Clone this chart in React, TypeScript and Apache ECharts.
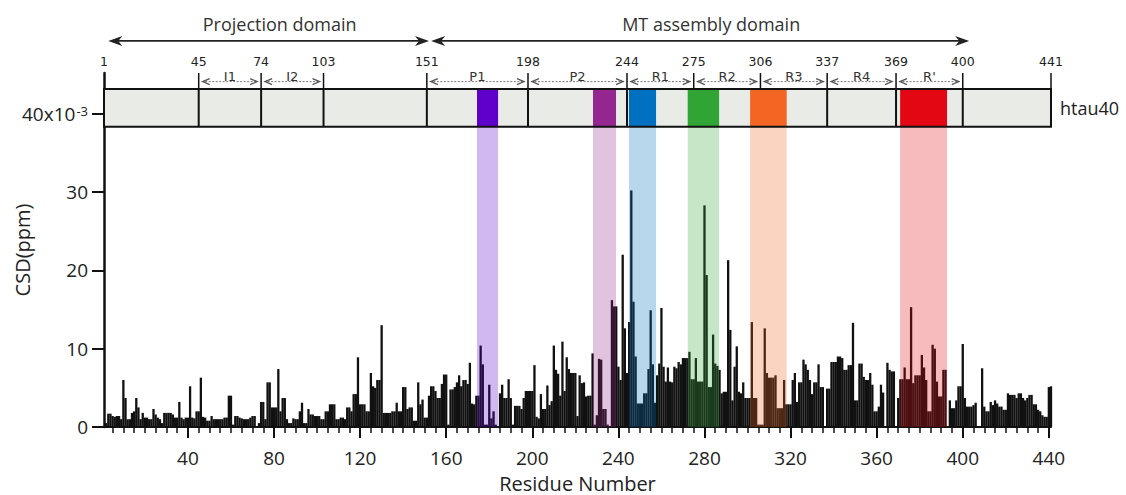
import React, { useEffect, useRef } from "react";
import * as echarts from "echarts";

// CSD (ppm) per residue 1..441
const csd: number[] = [
  0, 0.5, 1.7, 1.7, 1.4, 1.3, 1.4, 1.4, 1.0, 6.0,
  3.7, 1.0, 1.0, 1.8, 2.0, 3.7, 2.5, 1.0, 1.8, 1.2,
  1.2, 1.0, 1.0, 2.3, 1.6, 1.2, 1.0, 0.5, 1.8, 1.8,
  1.8, 1.8, 1.6, 1.2, 1.2, 3.2, 1.2, 1.0, 1.2, 1.2,
  5.2, 1.2, 1.1, 2.0, 2.0, 6.3, 1.3, 1.2, 0.8, 0.8,
  1.4, 1.0, 1.0, 1.0, 1.0, 1.0, 1.2, 1.2, 4.0, 4.0,
  0.3, 1.4, 1.4, 1.2, 1.1, 1.0, 1.0, 1.0, 1.2, 1.4,
  1.4, 0.1, 0.5, 3.2, 3.2, 1.0, 5.7, 5.7, 2.5, 2.5,
  2.5, 7.4, 2.0, 3.7, 3.7, 1.0, 0.5, 0.5, 1.1, 1.0,
  1.0, 2.0, 3.1, 0.5, 0.5, 2.3, 1.6, 1.6, 1.4, 1.4,
  1.4, 1.0, 1.0, 2.0, 2.0, 2.9, 2.9, 2.9, 1.0, 1.0,
  1.2, 1.2, 1.0, 2.5, 2.5, 2.0, 4.2, 4.2, 8.9, 2.9,
  2.9, 2.9, 2.0, 2.0, 6.9, 5.2, 5.0, 6.0, 6.0, 13.0,
  1.8, 1.8, 1.8, 1.8, 2.0, 2.0, 3.1, 2.0, 2.0, 5.1,
  5.1, 2.3, 2.5, 2.5, 0.8, 0.8, 5.7, 2.9, 3.5, 1.2,
  1.2, 4.0, 5.2, 5.2, 4.6, 3.7, 3.7, 5.5, 6.7, 6.7,
  0.3, 4.8, 4.8, 5.1, 5.7, 6.6, 5.2, 6.0, 6.0, 5.5,
  8.2, 3.0, 2.9, 4.0, 4.0, 10.4, 8.0, 0.3, 0.3, 5.4,
  1.1, 2.0, 0.3, 0.1, 4.3, 5.4, 3.7, 3.7, 6.1, 3.7,
  0.3, 2.7, 2.7, 2.7, 2.3, 3.7, 4.6, 4.6, 4.6, 4.6,
  7.9, 1.3, 1.1, 4.2, 2.3, 2.3, 5.3, 2.8, 3.3, 10.4,
  7.3, 6.8, 4.0, 10.9, 4.6, 8.9, 7.4, 6.9, 6.9, 6.9,
  1.4, 6.6, 5.6, 5.7, 3.9, 4.0, 4.0, 9.4, 0.3, 1.5,
  8.7, 8.6, 2.3, 2.3, 0.3, 0.1, 16.2, 15.4, 15.4, 7.7,
  6.0, 22.0, 12.6, 6.9, 13.4, 30.2, 16.0, 9.0, 3.0, 3.0,
  3.0, 4.3, 4.3, 7.4, 14.9, 8.0, 3.1, 6.6, 8.1, 15.2,
  7.7, 5.8, 7.6, 5.8, 5.7, 7.7, 7.5, 8.3, 8.0, 8.8,
  8.8, 8.8, 9.6, 6.1, 6.1, 8.8, 5.8, 5.8, 5.8, 28.3,
  19.4, 5.1, 5.1, 11.8, 8.1, 7.8, 7.3, 4.3, 4.5, 4.5,
  21.3, 12.4, 3.4, 7.7, 10.3, 4.5, 4.3, 5.7, 3.7, 3.7,
  3.7, 13.4, 3.7, 3.7, 0.3, 0.3, 0.3, 12.6, 6.9, 6.3,
  6.3, 6.3, 6.6, 2.4, 2.4, 2.4, 6.0, 2.9, 2.9, 2.9,
  6.0, 6.9, 3.2, 5.7, 5.7, 8.6, 8.0, 7.3, 6.0, 4.2,
  5.7, 5.7, 8.0, 5.1, 5.1, 0, 4.9, 4.9, 8.3, 8.3,
  8.3, 9.0, 9.0, 8.8, 7.3, 7.3, 7.9, 7.9, 13.3, 3.4,
  3.4, 8.1, 8.1, 6.4, 6.0, 6.0, 6.9, 5.4, 2.0, 2.0,
  2.6, 5.4, 4.4, 0, 8.2, 7.3, 7.1, 7.1, 0, 3.7,
  6.1, 6.1, 7.6, 6.1, 6.1, 15.3, 5.6, 6.6, 6.6, 6.6,
  9.2, 7.6, 6.0, 2.0, 2.0, 10.5, 10.0, 5.8, 3.9, 3.9,
  7.3, 7.3, 0, 3.4, 2.4, 2.4, 3.4, 5.2, 5.2, 10.6,
  3.7, 2.6, 2.6, 2.6, 2.8, 3.1, 0, 0, 7.5, 2.6,
  2.0, 2.0, 3.2, 2.8, 3.4, 3.0, 2.6, 2.6, 2.2, 2.2,
  4.3, 4.1, 4.1, 4.1, 3.7, 4.3, 4.3, 3.7, 3.4, 3.7,
  4.1, 4.1, 2.9, 2.9, 2.2, 2.0, 1.5, 1.3, 1.3, 5.1, 5.2,
];

const xTickLabels = [40, 80, 120, 160, 200, 240, 280, 320, 360, 400, 440];
const xMinorTicks: number[] = [];
for (let r = 5; r < 441; r += 5) if (r % 40 !== 0) xMinorTicks.push(r);
const yTickLabels = [0, 10, 20, 30, 40];

// htau40 domain map
const boundaries = [1, 45, 74, 103, 151, 198, 244, 275, 306, 337, 369, 400, 441];
const fullDividers = [45, 74, 103, 151, 198, 244, 337, 369, 400];
const regionNames = ["I1", "I2", "P1", "P2", "R1", "R2", "R3", "R4", "R'"];
const regionStart = [45, 74, 151, 198, 244, 275, 306, 337, 369];
const regionEnd = [74, 103, 198, 244, 275, 306, 337, 369, 400];

// highlighted bands (residues)
const bandStart = [174.3, 228.2, 244.9, 272.2, 301.2, 370.9];
const bandEnd = [184.1, 238.9, 257.5, 286.8, 318.2, 392.7];
const bandColors = ["#5e00c9", "#93278f", "#0070c0", "#30a535", "#f26522", "#e30613"];

const domainNames = ["Projection domain", "MT assembly domain"];
const domainStart = [3, 153];
const domainEnd = [152, 403];

const Y_MAX = 45.2;
const BOX_TOP = 43.15;
const BOX_BOTTOM = 38.35;
const NUM_Y = 46.7;
const REGION_LINE_Y = 44.1;
const DOMAIN_Y = 49.3;
const DOMAIN_TEXT_Y = 51.5;
const HTAU_Y = 40.75;

const FONT = '"Open Sans", "Noto Sans", sans-serif';

export default function App() {
  const ref = useRef<HTMLDivElement>(null);

  useEffect(() => {
    if (!ref.current) return;
    const chart = echarts.init(ref.current, null, { renderer: "svg" });

    const renderOverlay = (_params: any, api: any) => {
      const p = (x: number, y: number) => api.coord([x, y]);
      const children: any[] = [];
      const first = boundaries[0];
      const last = boundaries[boundaries.length - 1];
      const tl = p(first, BOX_TOP);
      const br = p(last, BOX_BOTTOM);
      children.push({
        type: "rect",
        shape: { x: tl[0], y: tl[1], width: br[0] - tl[0], height: br[1] - tl[1] },
        style: { fill: "#e9ece6" },
      });
      for (let i = 0; i < bandStart.length; i++) {
        const a = p(bandStart[i], BOX_TOP);
        const b = p(bandEnd[i], BOX_BOTTOM);
        children.push({
          type: "rect",
          shape: { x: a[0], y: a[1], width: b[0] - a[0], height: b[1] - a[1] },
          style: { fill: bandColors[i] },
        });
        const c = p(bandStart[i], BOX_BOTTOM);
        const d = p(bandEnd[i], 0);
        children.push({
          type: "rect",
          shape: { x: c[0], y: c[1], width: d[0] - c[0], height: d[1] - c[1] },
          style: { fill: bandColors[i], opacity: 0.28 },
        });
      }
      for (const b of fullDividers) {
        const a = p(b, BOX_TOP);
        const c = p(b, BOX_BOTTOM);
        children.push({
          type: "line",
          shape: { x1: a[0], y1: a[1], x2: c[0], y2: c[1] },
          style: { stroke: "#111", lineWidth: 2 },
        });
      }
      children.push({
        type: "rect",
        shape: { x: tl[0], y: tl[1], width: br[0] - tl[0], height: br[1] - tl[1] },
        style: { fill: null, stroke: "#111", lineWidth: 2 },
      });
      for (let i = 0; i < boundaries.length; i++) {
        const b = boundaries[i];
        const a = p(b, Y_MAX);
        const c = p(b, BOX_TOP);
        if (i > 0) {
          children.push({
            type: "line",
            shape: { x1: a[0], y1: a[1], x2: c[0], y2: c[1] },
            style: { stroke: "#111", lineWidth: 1.5 },
          });
        }
        const t = p(b, NUM_Y);
        children.push({
          type: "text",
          x: t[0],
          y: t[1],
          style: {
            text: String(b),
            fill: "#222",
            font: '12.5px "DejaVu Sans", sans-serif',
            align: "center",
            verticalAlign: "middle",
          },
        });
      }
      for (let i = 0; i < regionNames.length; i++) {
        const a = p(regionStart[i], REGION_LINE_Y);
        const b = p(regionEnd[i], REGION_LINE_Y);
        const y = a[1];
        const x1 = a[0] + 3;
        const x2 = b[0] - 3;
        children.push({
          type: "line",
          shape: { x1, y1: y, x2, y2: y },
          style: { stroke: "#777", lineWidth: 1, lineDash: [2, 1.5] },
        });
        children.push({
          type: "polyline",
          shape: { points: [[x1 + 8, y - 3], [x1 + 1, y], [x1 + 8, y + 3]] },
          style: { stroke: "#555", lineWidth: 1.3, fill: null },
        });
        children.push({
          type: "polyline",
          shape: { points: [[x2 - 8, y - 3], [x2 - 1, y], [x2 - 8, y + 3]] },
          style: { stroke: "#555", lineWidth: 1.3, fill: null },
        });
        children.push({
          type: "text",
          x: (a[0] + b[0]) / 2,
          y: y + 1,
          style: {
            text: regionNames[i],
            fill: "#333",
            font: '13px "DejaVu Sans", sans-serif',
            align: "center",
            verticalAlign: "bottom",
          },
        });
      }
      for (let i = 0; i < domainNames.length; i++) {
        const a = p(domainStart[i], DOMAIN_Y);
        const b = p(domainEnd[i], DOMAIN_Y);
        const y = a[1];
        const L = a[0];
        const R = b[0];
        children.push({
          type: "line",
          shape: { x1: L + 8, y1: y, x2: R - 8, y2: y },
          style: { stroke: "#222", lineWidth: 1.6 },
        });
        children.push({
          type: "polygon",
          shape: { points: [[L, y], [L + 14, y - 5], [L + 10, y], [L + 14, y + 5]] },
          style: { fill: "#222" },
        });
        children.push({
          type: "polygon",
          shape: { points: [[R, y], [R - 14, y - 5], [R - 10, y], [R - 14, y + 5]] },
          style: { fill: "#222" },
        });
        const t = p((domainStart[i] + domainEnd[i]) / 2, DOMAIN_TEXT_Y);
        children.push({
          type: "text",
          x: t[0] + 11,
          y: t[1],
          style: {
            text: domainNames[i],
            fill: "#333",
            font: "18px " + FONT,
            align: "center",
            verticalAlign: "middle",
          },
        });
      }
      const h = p(last, HTAU_Y);
      children.push({
        type: "text",
        x: h[0] + 9,
        y: h[1],
        style: {
          text: "htau40",
          fill: "#222",
          font: "18px " + FONT,
          align: "left",
          verticalAlign: "middle",
        },
      });
      return { type: "group", children };
    };

    chart.setOption({
      animation: false,
      backgroundColor: "#ffffff",
      grid: { left: 104, right: 75, top: 73, bottom: 68, containLabel: false, outerBoundsMode: "none" },
      xAxis: [
        {
          type: "value",
          min: 1,
          max: 441,
          name: "Residue Number",
          nameLocation: "middle",
          nameGap: 46,
          nameMoveOverlap: false,
          nameTextStyle: { fontSize: 20, fontFamily: FONT, color: "#222" },
          splitLine: { show: false },
          axisLine: { show: true, lineStyle: { color: "#111", width: 2 } },
          axisTick: { show: true, customValues: xTickLabels, length: 11, lineStyle: { color: "#111", width: 2 } },
          axisLabel: {
            customValues: xTickLabels,
            margin: 21,
            fontSize: 19,
            fontFamily: FONT,
            color: "#222",
          },
        },
        {
          type: "value",
          min: 1,
          max: 441,
          position: "bottom",
          splitLine: { show: false },
          axisLine: { show: false },
          axisLabel: { show: false },
          axisTick: { show: true, customValues: xMinorTicks, length: 6, lineStyle: { color: "#111", width: 1.5 } },
        },
      ],
      yAxis: {
        type: "value",
        min: 0,
        max: Y_MAX,
        name: "CSD(ppm)",
        nameLocation: "middle",
        nameGap: 72,
        nameMoveOverlap: false,
        nameTextStyle: { fontSize: 20, fontFamily: FONT, color: "#222" },
        splitLine: { show: false },
        axisLine: { show: true, lineStyle: { color: "#111", width: 2.5 } },
        axisTick: { show: true, customValues: yTickLabels, length: 12, lineStyle: { color: "#111", width: 2 } },
        axisLabel: {
          customValues: yTickLabels,
          margin: 16,
          fontSize: 19,
          fontFamily: FONT,
          color: "#222",
          formatter: (v: number) => (v === 40 ? "40x10{sup|-3}" : String(v)),
          rich: {
            sup: { fontSize: 13, fontFamily: FONT, color: "#222", verticalAlign: "top", padding: [0, 0, 6, 1] },
          },
        },
      },
      series: [
        {
          type: "bar",
          data: csd.map((v, i) => [i + 1, v]),
          barWidth: 2.3,
          itemStyle: { color: "#111111" },
          silent: true,
          z: 2,
        },
        {
          type: "custom",
          data: [[1, 0]],
          clip: false,
          silent: true,
          z: 5,
          renderItem: renderOverlay,
        },
      ],
    });

    return () => chart.dispose();
  }, []);

  return (
    <div
      ref={ref}
      style={{ position: "absolute", left: 0, top: 0, width: 1126, height: 495 }}
    />
  );
}
